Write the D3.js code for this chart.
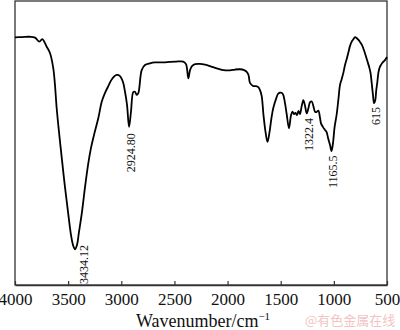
<!DOCTYPE html>
<html>
<head>
<meta charset="utf-8">
<script src="https://cdn.jsdelivr.net/npm/d3@7"></script>
<style>
html,body{margin:0;padding:0;background:#fff;}
svg{display:block;}
</style>
</head>
<body>
<svg id="chart" width="400" height="330"></svg>
<script>
// Wavenumber (cm^-1)
const wavenumber = [4000,3934,3859,3812,3771,3743,3702,3671,3640,3624,3608,3583,3558,3530,3501,3473,3454,3435,3417,3398,3370,3341,3313,3285,3257,3216,3184,3153,3122,3087,3043,3012,2984,2965,2946,2927,2909,2887,2871,2855,2840,2808,2777,2730,2683,2605,2542,2485,2417,2391,2369,2353,2335,2306,2259,2212,2165,2102,2040,1977,1930,1883,1845,1820,1803,1789,1758,1733,1711,1695,1679,1662,1643,1624,1605,1587,1570,1544,1526,1507,1488,1476,1460,1444,1422,1403,1389,1375,1361,1347,1333,1319,1304,1287,1271,1255,1239,1224,1208,1191,1177,1163,1146,1130,1121,1102,1083,1069,1052,1036,1022,1008,994,973,956,942,926,909,895,879,862,848,832,815,801,782,768,754,735,721,707,693,676,665,655,644,632,622,610,601,591,580,566,552,538,519,500];
// Transmittance (arbitrary %)
const transmittance = [86.9,87.0,87.1,86.8,85.4,86.3,83.6,81.4,76.1,70.2,62.1,52.6,43.9,34.4,25.6,17.5,14.0,12.5,14.0,18.6,25.6,34.4,42.1,48.1,52.6,58.6,64.3,67.4,69.8,72.3,73.7,73.3,71.2,67.8,63.2,55.5,60.7,67.7,67.8,66.7,67.3,75.4,77.2,77.8,78.1,78.1,78.3,78.4,78.4,77.5,72.5,75.4,76.8,77.5,77.6,77.3,76.8,76.0,75.4,75.3,75.6,75.7,75.4,74.8,73.7,70.9,69.8,69.8,69.4,68.4,66.3,59.6,53.7,50.2,53.7,58.6,62.1,65.3,67.0,67.5,67.4,66.7,63.9,60.0,55.0,59.6,60.8,60.0,60.4,59.6,61.1,60.0,62.5,64.9,62.8,60.2,62.1,64.2,64.4,62.5,60.8,60.7,61.2,58.6,56.7,55.4,54.4,53.7,51.2,49.1,47.0,49.8,55.1,60.0,65.6,70.2,72.3,74.7,77.2,79.3,81.8,83.9,85.4,86.3,87.0,86.5,86.0,85.3,84.2,82.8,81.3,79.6,77.5,76.1,74.4,70.9,66.7,63.8,64.9,68.4,71.2,74.7,76.6,77.5,78.2,78.9,80.0];
// X tick labels
const xTicks = [4000,3500,3000,2500,2000,1500,1000,500];
// Peak annotations
const annotText = ["3434.12","2924.80","1322.4","1165.5","615"];
const annotX = [3351,2904,1234,1008,599];
const annotY = [0.35,39.6,47.0,34.0,56.1];

(function(){
const svg = d3.select("#chart");
const mLeft = 15, mRight = 387, mTop = 0, mBottom = 285;

const x = d3.scaleLinear().domain([4000,500]).range([mLeft,mRight]);
const y = d3.scaleLinear().domain([0,100]).range([mBottom,mTop]);

const serif = "'Liberation Serif','Times New Roman',serif";

// frame
svg.append("rect")
  .attr("x", mLeft).attr("y", 1)
  .attr("width", mRight-mLeft).attr("height", mBottom-1)
  .attr("fill","none").attr("stroke","#333").attr("stroke-width",1.3);

// bottom axis with inward ticks
const xAxis = d3.axisBottom(x).tickValues(xTicks).tickSizeInner(-4).tickSizeOuter(0).tickPadding(12)
  .tickFormat(d3.format("d"));
const gx = svg.append("g").attr("transform",`translate(0,${mBottom})`).call(xAxis);
gx.select(".domain").attr("stroke","#333").attr("stroke-width",1.3);
gx.selectAll(".tick line").attr("stroke","#333").attr("stroke-width",1.2);
gx.selectAll(".tick text")
  .attr("font-family",serif).attr("font-size",17).attr("fill","#111")
  .attr("y",8).attr("dy","0.71em");

// axis title
const title = svg.append("text")
  .attr("x",203).attr("y",327)
  .attr("text-anchor","middle")
  .attr("font-family",serif).attr("font-size",18).attr("fill","#111");
title.append("tspan").text("Wavenumber/cm");
title.append("tspan").attr("dy",-7).attr("font-size",11).text("\u22121");

// spectrum line
const line = d3.line()
  .x((d,i)=>x(wavenumber[i]))
  .y((d,i)=>y(transmittance[i]))
  .curve(d3.curveCatmullRom.alpha(0.5));
svg.append("path")
  .datum(wavenumber)
  .attr("d", line)
  .attr("fill","none").attr("stroke","#000").attr("stroke-width",1.8)
  .attr("stroke-linejoin","round");

// annotations (rotated)
annotText.forEach((t,i)=>{
  svg.append("text")
    .attr("transform",`translate(${x(annotX[i])},${y(annotY[i])}) rotate(-90)`)
    .attr("text-anchor","start")
    .attr("dominant-baseline","central")
    .attr("font-family",serif).attr("font-size",12).attr("fill","#111")
    .text(t);
});

// watermark
svg.append("text")
  .attr("x",305).attr("y",325)
  .attr("font-family","'Noto Sans CJK SC',sans-serif").attr("font-size",13)
  .attr("fill","#f2c4c4")
  .text("@有色金属在线");
})();
</script>
</body>
</html>
